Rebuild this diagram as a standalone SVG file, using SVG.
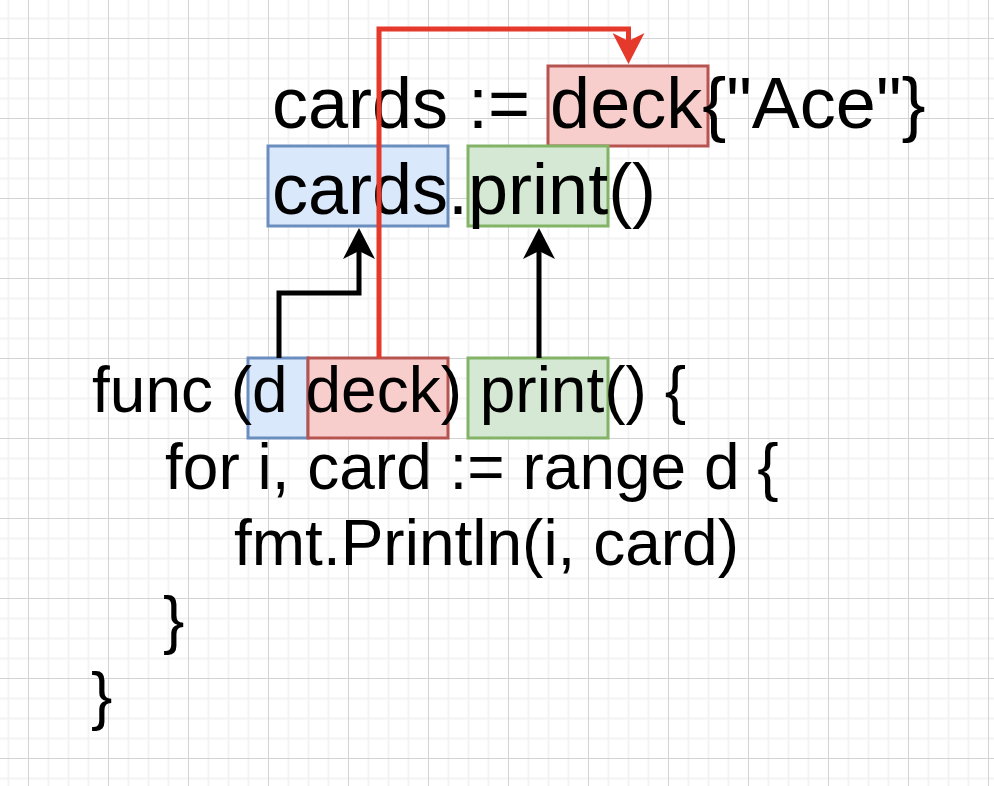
<svg xmlns="http://www.w3.org/2000/svg" width="994" height="786" viewBox="0 0 994 786">
  <style>
    .code { font-family: "Liberation Sans", Arial, Helvetica, sans-serif; fill: #000000; white-space: pre; }
    .big { font-size: 72px; }
    .small { font-size: 64px; }
    .blue { fill: #dae8fc; stroke: #6c8ebf; stroke-width: 3; }
    .green { fill: #d5e8d4; stroke: #82b366; stroke-width: 3; }
    .red { fill: #f8cecc; stroke: #b85450; stroke-width: 3; }
    .link { fill: none; stroke-width: 5; stroke-linejoin: miter; }
    .link-black { stroke: #000000; }
    .link-red { stroke: #e5392b; }
  </style>
  <defs>
    <pattern id="grid" x="28" y="38" width="80" height="80" patternUnits="userSpaceOnUse">
      <rect x="0" y="0" width="80" height="80" fill="#ffffff"/>
      <g fill="#f3f3f3">
        <rect x="19.5" y="0" width="2" height="80"/>
        <rect x="39.5" y="0" width="2" height="80"/>
        <rect x="59.5" y="0" width="2" height="80"/>
        <rect x="0" y="19.5" width="80" height="2"/>
        <rect x="0" y="39.5" width="80" height="2"/>
        <rect x="0" y="59.5" width="80" height="2"/>
      </g>
      <g fill="#d3d3d3">
        <rect x="0" y="0" width="1" height="80"/>
        <rect x="0" y="0" width="80" height="1"/>
      </g>
    </pattern>
    <marker id="arrow-black" markerUnits="userSpaceOnUse" markerWidth="31" markerHeight="32" viewBox="0 0 31 32" refX="8" refY="16" orient="auto">
      <path d="M0,0 L31,16 L0,32 L8,16 Z" fill="#000000"/>
    </marker>
    <marker id="arrow-red" markerUnits="userSpaceOnUse" markerWidth="31" markerHeight="32" viewBox="0 0 31 32" refX="8" refY="16" orient="auto">
      <path d="M0,0 L31,16 L0,32 L8,16 Z" fill="#e5392b"/>
    </marker>
  </defs>

  <!-- canvas grid -->
  <rect x="0" y="0" width="994" height="786" fill="url(#grid)"/>

  <!-- highlight boxes -->
  <g id="deck-literal">
    <rect class="red" x="548" y="66" width="160" height="80"/>
  </g>
  <g id="cards-receiver">
    <rect class="blue" x="268" y="146" width="180" height="80"/>
  </g>
  <g id="print-call">
    <rect class="green" x="468" y="146" width="140" height="80"/>
  </g>
  <g id="receiver-name">
    <rect class="blue" x="248" y="358" width="60" height="80"/>
  </g>
  <g id="receiver-type">
    <rect class="red" x="308" y="358" width="140" height="80"/>
  </g>
  <g id="print-func">
    <rect class="green" x="468" y="358" width="140" height="80"/>
  </g>

  <!-- calling code -->
  <g id="usage-code" class="code big">
    <text x="272" y="128">cards := deck{"Ace"}</text>
    <text x="272" y="214">cards.print()</text>
  </g>

  <!-- method declaration -->
  <g id="method-code" class="code small">
    <text x="92" y="412">func (d deck) print() {</text>
    <text x="165" y="489">for i, card := range d {</text>
    <text x="234" y="565">fmt.Println(i, card)</text>
    <text x="163" y="642">}</text>
    <text x="91" y="718">}</text>
  </g>

  <!-- connectors -->
  <g id="connectors">
    <path class="link link-black" d="M279,358 V293 H359 V251" marker-end="url(#arrow-black)"/>
    <path class="link link-black" d="M539,358 V251" marker-end="url(#arrow-black)"/>
    <path class="link link-red" d="M379,358 V29 H628.5 V41" marker-end="url(#arrow-red)"/>
  </g>
</svg>
